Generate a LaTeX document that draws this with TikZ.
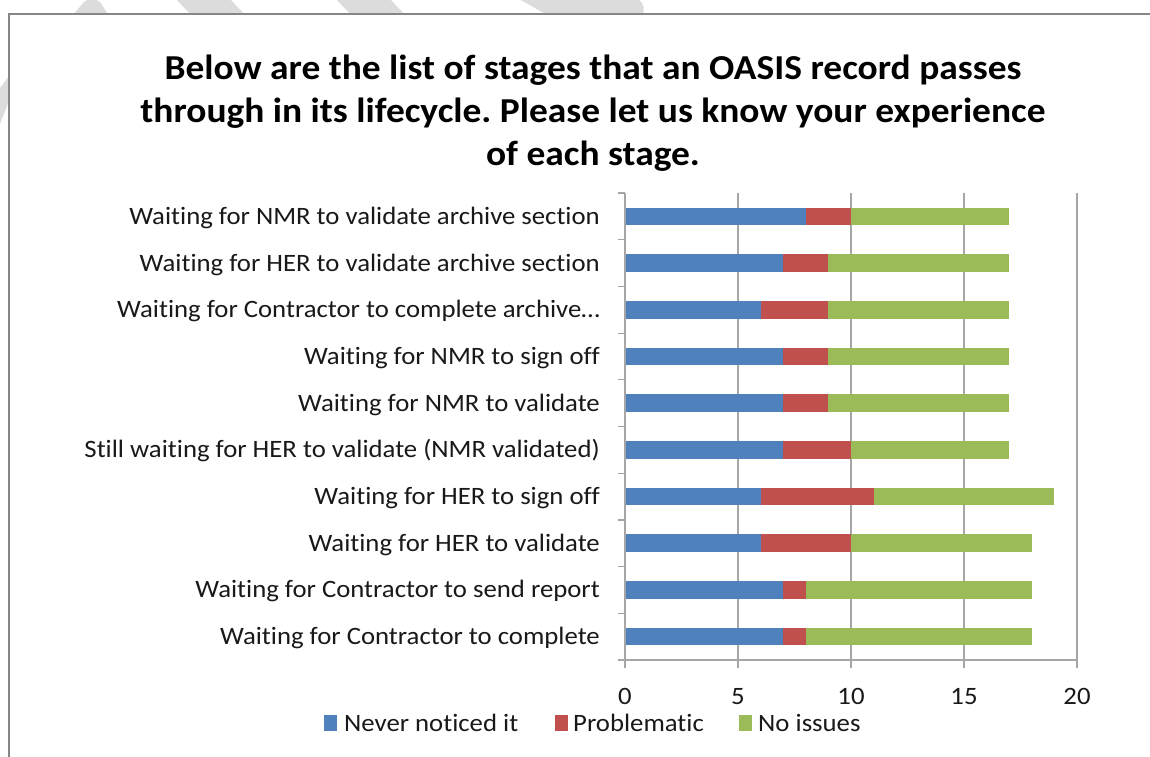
\documentclass[tikz,border=0pt]{standalone}
\usepackage{fontspec}
\setmainfont[FakeStretch=1.07,Ligatures=NoCommon]{Carlito}
\frenchspacing
\definecolor{cblue}{HTML}{4F81BD}
\definecolor{cred}{HTML}{C0504D}
\definecolor{cgreen}{HTML}{9BBB59}
\definecolor{wmark}{HTML}{DCDCDC}
\definecolor{framegray}{HTML}{868686}
\definecolor{gridgray}{HTML}{A6A6A6}
\tikzset{
  framebox/.style={draw=framegray, line width=2pt, fill=white},
  gridline/.style={draw=gridgray, line width=1.2pt},
  axisline/.style={draw=gridgray, line width=1.2pt},
  titletext/.style={font=\fontsize{35}{42}\selectfont\bfseries, inner sep=0pt, anchor=base},
  catlab/.style={font=\fontsize{25}{30}\selectfont, text=black!90, inner sep=0pt, anchor=base east},
  ticklab/.style={font=\fontsize{25}{30}\selectfont, text=black!90, inner sep=0pt, anchor=base},
  leglab/.style={font=\fontsize{25}{30}\selectfont, text=black!90, inner sep=0pt, anchor=base west},
}
\begin{document}
\begin{tikzpicture}[x=1pt,y=-1pt]
\useasboundingbox (0,0) rectangle (1150,756);
\clip (0,0) rectangle (1150,756);
% watermark fragments
\fill[wmark] (0,88) -- (9,76) -- (9,101) -- (0,124) -- cycle;
\fill[wmark] (72,16) -- (84,2) .. controls (89,-2) and (95,-2) .. (100,2) -- (109,16) -- cycle;
\fill[wmark] (176,-1) -- (230,-1) -- (246,16) -- (192,16) -- cycle;
\fill[wmark] (336,-1) -- (390,-1) -- (406,16) -- (352,16) -- cycle;
\fill[wmark] (519,-1) -- (638,-1) .. controls (645,4) and (645,11) .. (642,16) -- (549,16) -- cycle;
% frame
\draw[framebox] (9,14) rectangle (1175,790);
% title
\node[titletext] (t1) at (593,79) {Below are the list of stages that an OASIS record passes};
\node[titletext] (t2) at (593,122) {through in its lifecycle. Please let us know your experience};
\node[titletext] (t3) at (593,165) {of each stage.};
% gridlines
\foreach \v in {5,10,15,20} {
  \draw[gridline] (625+22.6*\v,193) -- (625+22.6*\v,668);
}
% axes
\draw[axisline] (625,193) -- (625,668);
\draw[axisline] (618,660) -- (1077,660);
\foreach \k in {0,...,9} {
  \draw[axisline] (618,193+46.7*\k) -- (625,193+46.7*\k);
}
% tick labels
\foreach \v in {0,5,10,15,20} {
  \node[ticklab] (tick\v) at (625+22.6*\v,704) {\v};
}
% bars and category labels
\foreach \i/\b/\r/\g/\lab in {
  1/8/2/7/Waiting for NMR to validate archive section,
  2/7/2/8/Waiting for HER to validate archive section,
  3/6/3/8/Waiting for Contractor to complete archive…,
  4/7/2/8/Waiting for NMR to sign off,
  5/7/2/8/Waiting for NMR to validate,
  6/7/3/7/Still waiting for HER to validate (NMR validated),
  7/6/5/8/Waiting for HER to sign off,
  8/6/4/8/Waiting for HER to validate,
  9/7/1/10/Waiting for Contractor to send report,
  10/7/1/10/Waiting for Contractor to complete} {
  \pgfmathsetmacro\yc{193+46.7*(\i-0.5)}
  \pgfmathsetmacro\xb{625+22.6*\b}
  \pgfmathsetmacro\xr{625+22.6*(\b+\r)}
  \pgfmathsetmacro\xg{625+22.6*(\b+\r+\g)}
  \fill[cblue] (625.6,\yc-8.8) rectangle (\xb,\yc+8.8);
  \fill[cred] (\xb,\yc-8.8) rectangle (\xr,\yc+8.8);
  \fill[cgreen] (\xr,\yc-8.8) rectangle (\xg,\yc+8.8);
  \node[catlab] (lab\i) at (600,\yc+8) {\lab};
}
% legend
\fill[cblue] (324,715) rectangle (337,731);
\node[leglab] (leg1) at (344,731) {Never noticed it};
\fill[cred] (555,715) rectangle (568,731);
\node[leglab] (leg2) at (573,731) {Problematic};
\fill[cgreen] (739,715) rectangle (752,731);
\node[leglab] (leg3) at (758,731) {No issues};
\end{tikzpicture}
\end{document}
